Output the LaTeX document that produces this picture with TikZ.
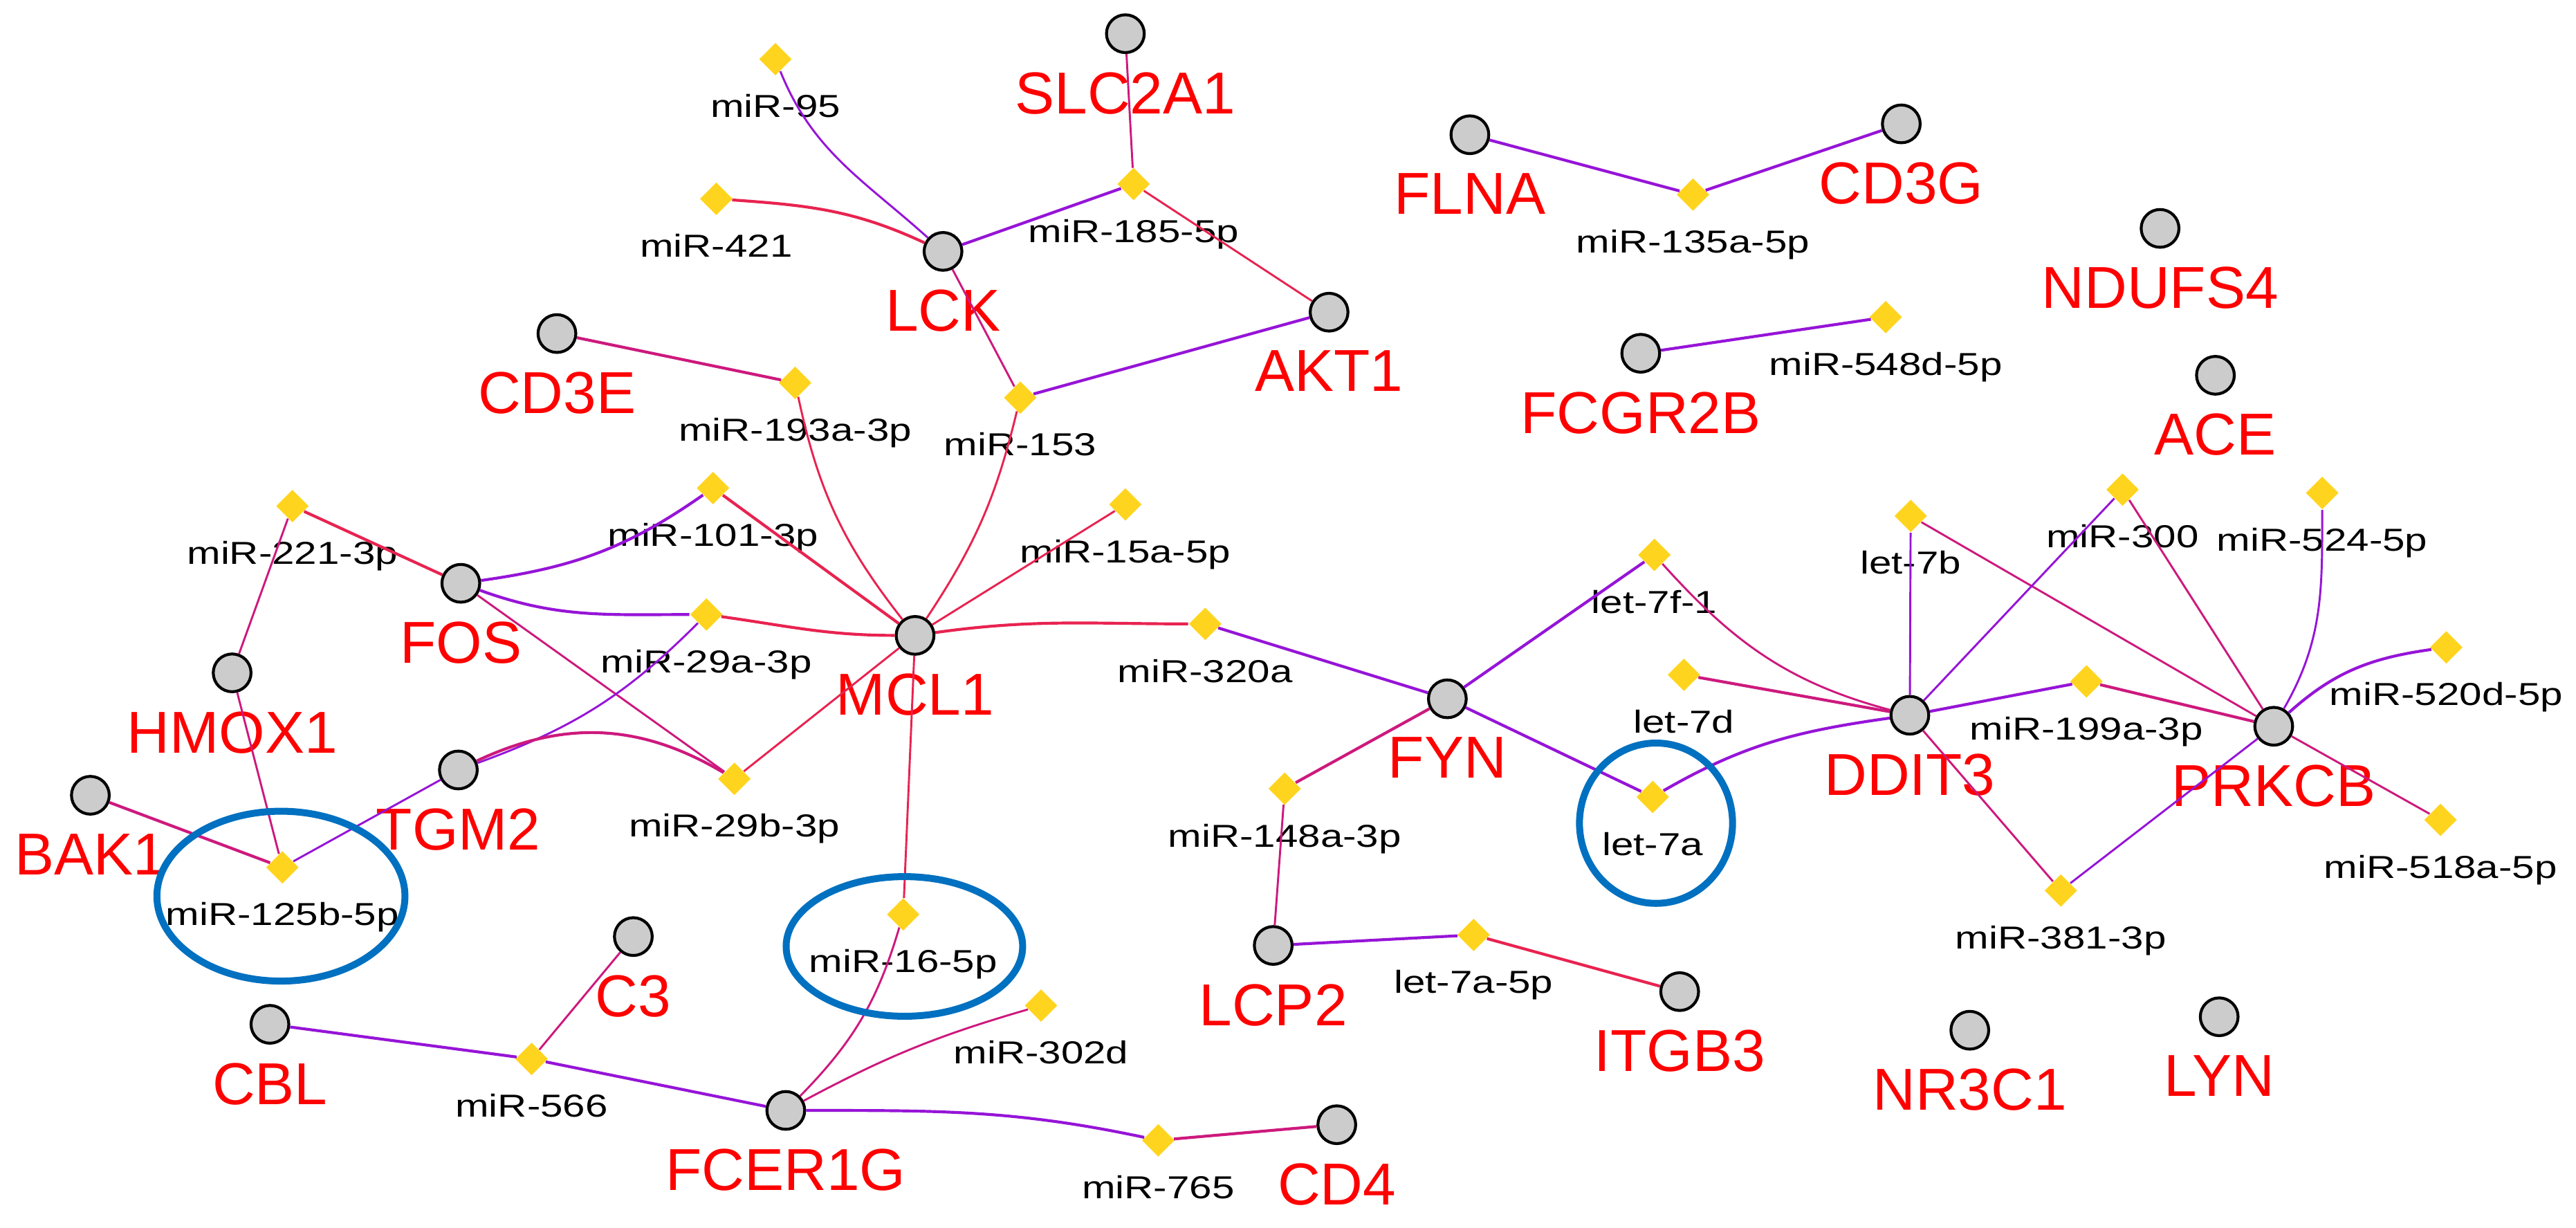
\documentclass[tikz,border=0pt]{standalone}
\usepackage{fontspec}
\setmainfont{Liberation Sans}
\newfontfamily\mirfont[FakeStretch=1.27]{Liberation Sans}
\usepackage{tikz}
\usetikzlibrary{shapes.geometric}
\usepackage{xcolor}
\definecolor{edgered}{RGB}{232, 35, 80}
\definecolor{edgepurple}{RGB}{150, 20, 215}
\definecolor{edgemag}{RGB}{205, 25, 125}
\definecolor{mirgold}{RGB}{255, 212, 30}
\definecolor{genegray}{RGB}{204, 204, 204}
\definecolor{ringblue}{RGB}{0, 112, 192}

\begin{document}
\begin{tikzpicture}[x=0.02cm, y=-0.02cm,
    gene/.style={circle, draw=black, line width=1pt, fill=genegray, minimum size=0.46cm, inner sep=0pt,
      label={[genetext]below:#1}},
    genetext/.style={text=red, font=\fontsize{20.5}{24}\selectfont, inner sep=0pt, label distance=0.215cm},
    mir/.style={diamond, fill=mirgold, minimum width=0.4cm, minimum height=0.4cm, inner sep=0pt,
      label={[mirtext]below:#1}},
    mirtext/.style={text=black, font=\mirfont\fontsize{11}{13}\selectfont, inner sep=0pt, label distance=0.215cm},
    lnred/.style={draw=edgered}, lnpur/.style={draw=edgepurple}, lnmag/.style={draw=edgemag},
    heavy/.style={line width=1pt}, light/.style={line width=0.7pt},
    ring/.style={draw=ringblue, line width=2.4pt}]
    \useasboundingbox (0,0) rectangle (1568,747);

    % genes
    \node[gene=SLC2A1] (slc) at (685, 20.5) {};
    \node[gene=LCK] (lck) at (574, 153) {};
    \node[gene=AKT1] (akt) at (809, 190) {};
    \node[gene=CD3E] (cd3e) at (339, 203) {};
    \node[gene=FLNA] (flna) at (894.7, 82) {};
    \node[gene=CD3G] (cd3g) at (1157.3, 75.4) {};
    \node[gene=NDUFS4] (ndufs) at (1314.8, 139) {};
    \node[gene=FCGR2B] (fcgr) at (998.7, 215) {};
    \node[gene=ACE] (ace) at (1348.5, 228.4) {};
    \node[gene=FOS] (fos) at (280.5, 355) {};
    \node[gene=HMOX1] (hmox) at (141.3, 409.5) {};
    \node[gene=MCL1] (mcl) at (557, 386.7) {};
    \node[gene=FYN] (fyn) at (881, 425.3) {};
    \node[gene=DDIT3] (ddit) at (1162.5, 435.3) {};
    \node[gene=PRKCB] (prkcb) at (1384, 442) {};
    \node[gene=TGM2] (tgm) at (279, 468.6) {};
    \node[gene=BAK1] (bak) at (55, 484) {};
    \node[gene=C3] (cthree) at (385.5, 570) {};
    \node[gene=CBL] (cbl) at (164.3, 623.4) {};
    \node[gene=LCP2] (lcp) at (775, 575.4) {};
    \node[gene=ITGB3] (itgb) at (1022.4, 603.5) {};
    \node[gene=FCER1G] (fcer) at (478.3, 675.8) {};
    \node[gene=CD4] (cdfour) at (813.7, 684.5) {};
    \node[gene=NR3C1] (nr) at (1199, 627) {};
    \node[gene=LYN] (lyn) at (1350.8, 618.8) {};

    % miRNAs
    \node[mir=miR-95] (m95) at (472, 36) {};
    \node[mir=miR-421] (m421) at (436, 121) {};
    \node[mir=miR-185-5p] (m185) at (690, 112) {};
    \node[mir=miR-193a-3p] (m193) at (484, 233) {};
    \node[mir=miR-153] (m153) at (621, 242) {};
    \node[mir=miR-135a-5p] (m135) at (1030.5, 118.4) {};
    \node[mir=miR-548d-5p] (m548) at (1147.8, 193) {};
    \node[mir=miR-221-3p] (m221) at (178, 308) {};
    \node[mir=miR-101-3p] (m101) at (434, 297) {};
    \node[mir=miR-15a-5p] (m15) at (685, 307) {};
    \node[mir=miR-29a-3p] (m29a) at (430, 374) {};
    \node[mir=miR-29b-3p] (m29b) at (447, 474) {};
    \node[mir=miR-320a] (m320) at (733.6, 379.7) {};
    \node[mir=miR-16-5p] (m16) at (549.8, 556.5) {};
    \node[mir=miR-125b-5p] (m125) at (171.9, 527.9) {};
    \node[mir=miR-566] (m566) at (323.6, 644.5) {};
    \node[mir=miR-302d] (m302) at (633.7, 612) {};
    \node[mir=miR-765] (m765) at (705, 694) {};
    \node[mir=let-7f-1] (l7f) at (1007, 337.7) {};
    \node[mir=let-7d] (l7d) at (1025, 410.7) {};
    \node[mir=let-7a] (l7a) at (1006, 485) {};
    \node[mir=miR-148a-3p] (m148) at (782, 480) {};
    \node[mir=let-7a-5p] (l7a5) at (897, 569) {};
    \node[mir=let-7b] (l7b) at (1163, 314) {};
    \node[mir=miR-300] (m300) at (1292, 298) {};
    \node[mir=miR-524-5p] (m524) at (1413.5, 300) {};
    \node[mir=miR-199a-3p] (m199) at (1270, 414.7) {};
    \node[mir=miR-520d-5p] (m520) at (1489, 394) {};
    \node[mir=miR-381-3p] (m381) at (1254.4, 542) {};
    \node[mir=miR-518a-5p] (m518) at (1485.5, 499) {};

    % LCK / AKT1
    \draw[lnpur, light] (m95) to[out=-68, in=138] (lck);
    \draw[lnred, heavy] (m421) to[out=-4, in=155] (lck);
    \draw[lnmag, light] (slc) -- (m185);
    \draw[lnpur, heavy] (lck) -- (m185);
    \draw[lnred, light] (m185) -- (akt);
    \draw[lnmag, light] (lck) -- (m153);
    \draw[lnpur, heavy] (m153) -- (akt);
    \draw[lnmag, heavy] (cd3e) -- (m193);
    \draw[lnred, light] (m193) to[bend right=13] (mcl);
    \draw[lnred, light] (m153) to[bend left=10] (mcl);

    % FOS / TGM2 / MCL1
    \draw[lnpur, heavy] (fos) to[out=8, in=215] (m101);
    \draw[lnred, heavy] (m101) -- (mcl);
    \draw[lnred, light] (m15) -- (mcl);
    \draw[lnred, heavy] (m221) -- (fos);
    \draw[lnmag, light] (m221) -- (hmox);
    \draw[lnpur, heavy] (fos) to[out=-20, in=180] (m29a);
    \draw[lnred, heavy] (m29a) to[out=-8, in=180] (mcl);
    \draw[lnmag, light] (fos) -- (m29b);
    \draw[lnpur, light] (m29a) to[out=225, in=20] (tgm);
    \draw[lnmag, heavy] (tgm) to[bend left=28] (m29b);
    \draw[lnred, light] (m29b) -- (mcl);
    \draw[lnred, heavy] (mcl) to[out=8, in=180] (m320);
    \draw[lnpur, heavy] (m320) -- (fyn);
    \draw[lnred, light] (mcl) -- (m16);
    \draw[lnmag, light] (m16) to[bend left=14] (fcer);

    % lower left
    \draw[lnmag, light] (hmox) -- (m125);
    \draw[lnmag, heavy] (bak) -- (m125);
    \draw[lnpur, light] (m125) -- (tgm);
    \draw[lnmag, light] (cthree) -- (m566);
    \draw[lnpur, heavy] (cbl) -- (m566);
    \draw[lnpur, heavy] (m566) -- (fcer);
    \draw[lnmag, light] (fcer) to[bend left=6] (m302);
    \draw[lnpur, heavy] (fcer) to[out=0, in=168] (m765);
    \draw[lnmag, heavy] (m765) -- (cdfour);

    % FYN / DDIT3 / PRKCB
    \draw[lnpur, heavy] (fyn) -- (l7f);
    \draw[lnmag, light] (l7f) to[out=-48, in=165] (ddit);
    \draw[lnmag, heavy] (fyn) -- (m148);
    \draw[lnmag, light] (m148) -- (lcp);
    \draw[lnpur, heavy] (lcp) -- (l7a5);
    \draw[lnred, heavy] (l7a5) -- (itgb);
    \draw[lnpur, heavy] (fyn) -- (l7a);
    \draw[lnpur, heavy] (l7a) to[out=30, in=188] (ddit);
    \draw[lnmag, heavy] (l7d) -- (ddit);
    \draw[lnpur, light] (l7b) -- (ddit);
    \draw[lnmag, light] (l7b) -- (prkcb);
    \draw[lnpur, light] (m300) -- (ddit);
    \draw[lnmag, light] (m300) -- (prkcb);
    \draw[lnpur, heavy] (ddit) -- (m199);
    \draw[lnmag, heavy] (m199) -- (prkcb);
    \draw[lnmag, light] (ddit) -- (m381);
    \draw[lnpur, light] (m381) -- (prkcb);
    \draw[lnpur, light] (m524) to[out=-90, in=60] (prkcb);
    \draw[lnpur, heavy] (prkcb) to[out=42, in=188] (m520);
    \draw[lnmag, light] (prkcb) -- (m518);

    % top right
    \draw[lnpur, heavy] (flna) -- (m135);
    \draw[lnpur, heavy] (m135) -- (cd3g);
    \draw[lnpur, heavy] (fcgr) -- (m548);

    % highlighted miRNAs
    \draw[ring] (171, 545.4) ellipse [x radius=1.51cm, y radius=1.034cm];
    \draw[ring] (550.5, 576) ellipse [x radius=1.44cm, y radius=0.85cm];
    \draw[ring] (1008, 501) ellipse [x radius=0.932cm, y radius=0.976cm];
  \end{tikzpicture}
\end{document}
